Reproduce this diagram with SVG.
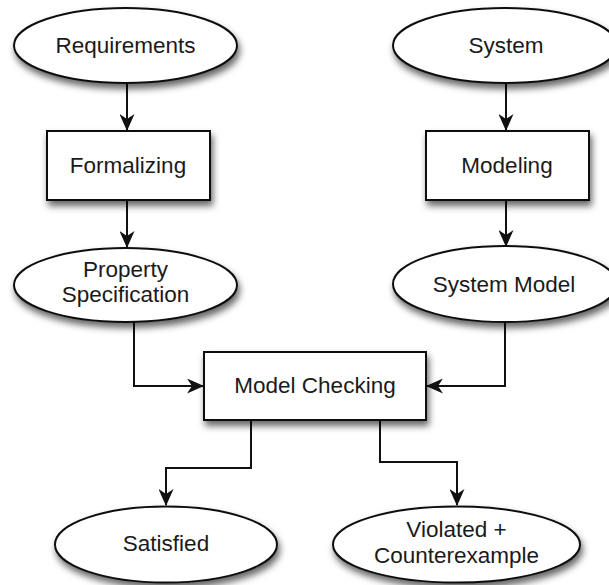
<svg xmlns="http://www.w3.org/2000/svg" width="609" height="585" viewBox="0 0 609 585">
  <defs>
    <filter id="shadow" x="-20%" y="-20%" width="150%" height="170%">
      <feDropShadow dx="2" dy="5" stdDeviation="3.5" flood-color="#000" flood-opacity="0.6"/>
    </filter>
    <marker id="arrow" viewBox="0 0 17 15" refX="16" refY="7.5" markerWidth="17" markerHeight="15" markerUnits="userSpaceOnUse" orient="auto">
      <path d="M0,0 L17,7.5 L0,15 L5,7.5 z" fill="#111"/>
    </marker>
    <style>
      .shape { fill: #fff; stroke: #111; stroke-width: 2; filter: url(#shadow); }
      .label { font-family: "Liberation Sans", Arial, Helvetica, sans-serif; font-size: 22.5px; fill: #1a1a1a; text-anchor: middle; }
      .edge { fill: none; stroke: #111; stroke-width: 2; marker-end: url(#arrow); }
    </style>
  </defs>

  <!-- connectors -->
  <g id="connectors">
    <path class="edge" d="M127,83 L127,130"/>
    <path class="edge" d="M127,200 L127,247"/>
    <path class="edge" d="M506,83 L506,130"/>
    <path class="edge" d="M506,200 L506,246"/>
    <path class="edge" d="M134,322 L134,386 L203,386"/>
    <path class="edge" d="M505,322 L505,386 L427,386"/>
    <path class="edge" d="M251,420 L251,468 L166,468 L166,505"/>
    <path class="edge" d="M380,420 L380,462 L457,462 L457,505"/>
  </g>

  <!-- nodes -->
  <g id="requirements">
    <ellipse class="shape" cx="125.5" cy="45.5" rx="111.5" ry="37.5"/>
    <text class="label" x="125.5" y="53">Requirements</text>
  </g>
  <g id="system">
    <ellipse class="shape" cx="505" cy="45.5" rx="112" ry="37.5"/>
    <text class="label" x="506" y="53">System</text>
  </g>
  <g id="formalizing">
    <rect class="shape" x="47" y="131" width="163" height="69"/>
    <text class="label" x="128" y="173">Formalizing</text>
  </g>
  <g id="modeling">
    <rect class="shape" x="426" y="131" width="163" height="69"/>
    <text class="label" x="507" y="173">Modeling</text>
  </g>
  <g id="property-specification">
    <ellipse class="shape" cx="125.5" cy="285" rx="111.5" ry="37"/>
    <text class="label" x="125.5" y="277">Property</text>
    <text class="label" x="125.5" y="302">Specification</text>
  </g>
  <g id="system-model">
    <ellipse class="shape" cx="505" cy="284" rx="112" ry="38"/>
    <text class="label" x="504" y="292">System Model</text>
  </g>
  <g id="model-checking">
    <rect class="shape" x="204" y="352" width="222" height="68"/>
    <text class="label" x="315" y="393">Model Checking</text>
  </g>
  <g id="satisfied">
    <ellipse class="shape" cx="166" cy="544.5" rx="111" ry="38"/>
    <text class="label" x="166" y="551">Satisfied</text>
  </g>
  <g id="violated">
    <ellipse class="shape" cx="456.5" cy="544.5" rx="123.5" ry="38"/>
    <text class="label" x="456.5" y="537">Violated +</text>
    <text class="label" x="456.5" y="563">Counterexample</text>
  </g>
</svg>
